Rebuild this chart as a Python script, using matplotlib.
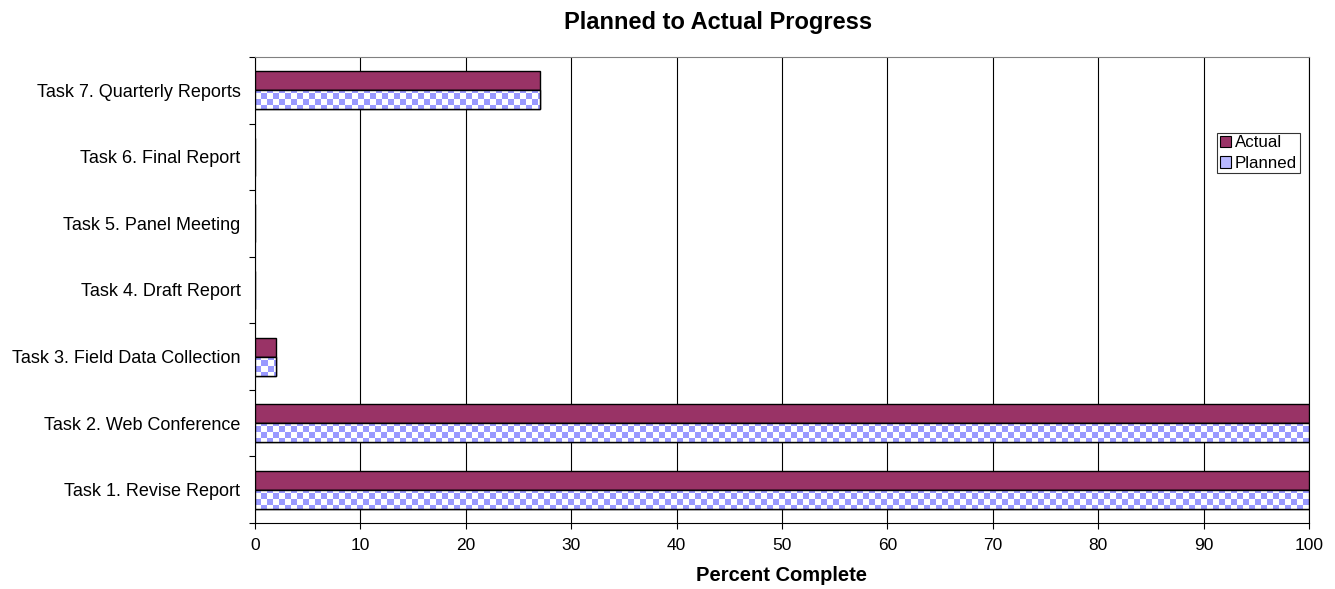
import numpy as np
import matplotlib
matplotlib.use("Agg")
import matplotlib.pyplot as plt
from matplotlib.patches import Patch

plt.rcParams['font.family'] = ['Liberation Sans', 'DejaVu Sans']

# data
tasks = [
    "Task 1. Revise Report",
    "Task 2. Web Conference",
    "Task 3. Field Data Collection",
    "Task 4. Draft Report",
    "Task 5. Panel Meeting",
    "Task 6. Final Report",
    "Task 7. Quarterly Reports",
]
actual = [100, 100, 2, 0, 0, 0, 27]
planned = [100, 100, 2, 0, 0, 0, 27]
x_ticks = [0, 10, 20, 30, 40, 50, 60, 70, 80, 90, 100]

ACTUAL_COLOR = "#993366"
CHECK_BLUE = "#9999ff"

fig = plt.figure(figsize=(13.35, 5.89), dpi=100)
ax = fig.add_axes([255 / 1335, 1 - 523 / 589, 1054 / 1335, 466 / 589])

y = np.arange(len(tasks))
bar_h = 0.285

ax.barh(y + bar_h / 2, actual, height=bar_h, color=ACTUAL_COLOR,
        edgecolor="black", linewidth=1.0, zorder=3)
planned_bars = ax.barh(y - bar_h / 2, planned, height=bar_h, color="white",
                       edgecolor="black", linewidth=1.0, zorder=3)

# checkerboard fill for the planned bars (approx. 6px squares)
ncols, nrows = 1054 // 6, 466 // 6
checker = (np.add.outer(np.arange(nrows), np.arange(ncols)) % 2).astype(float)
cmap = matplotlib.colors.ListedColormap(["white", CHECK_BLUE])
for bar in planned_bars:
    if bar.get_width() <= 0:
        continue
    im = ax.imshow(checker, cmap=cmap, extent=[0, 100, -0.5, len(tasks) - 0.5],
                   aspect="auto", interpolation="nearest", zorder=3.5)
    im.set_clip_path(bar)
    ax.add_patch(plt.Rectangle(bar.get_xy(), bar.get_width(), bar.get_height(),
                               fill=False, edgecolor="black", linewidth=1.0, zorder=4))

ax.set_xlim(0, 100)
ax.set_ylim(-0.5, len(tasks) - 0.5)
ax.set_xticks(x_ticks)
ax.set_yticks(y)
ax.set_yticklabels(tasks)
ax.set_yticks(np.arange(-0.5, len(tasks)), minor=True)
ax.tick_params(axis="y", which="major", length=0, pad=10.5, labelsize=13)
ax.tick_params(axis="y", which="minor", length=4.5, width=0.8, direction="out")
ax.tick_params(axis="x", length=4.5, width=0.8, direction="out", pad=6, labelsize=12.5)

ax.grid(axis="x", color="black", linewidth=0.8, zorder=0)
ax.set_axisbelow(True)
for side in ["left", "bottom", "right"]:
    ax.spines[side].set_color("black")
    ax.spines[side].set_linewidth(0.8)
ax.spines["top"].set_color("#808080")
ax.spines["top"].set_linewidth(0.8)

ax.set_xlabel("Percent Complete", fontsize=14.5, fontweight="bold", labelpad=10)
fig.text(718 / 1335, 1 - 22 / 589, "Planned to Actual Progress", fontsize=17,
         fontweight="bold", ha="center", va="center")

handles = [Patch(facecolor=ACTUAL_COLOR, edgecolor="black", linewidth=0.8),
           Patch(facecolor="#b8b8ff", edgecolor="black", linewidth=0.8)]
leg = ax.legend(handles, ["Actual", "Planned"], loc="upper right",
                bbox_to_anchor=(0.991, 0.837), fontsize=12.2, frameon=True,
                fancybox=False, edgecolor="black", handlelength=0.7,
                handleheight=0.7, handletextpad=0.2, borderpad=0.15,
                labelspacing=0.3, borderaxespad=0)
leg.get_frame().set_linewidth(0.8)

fig.savefig("out.png", dpi=100)
